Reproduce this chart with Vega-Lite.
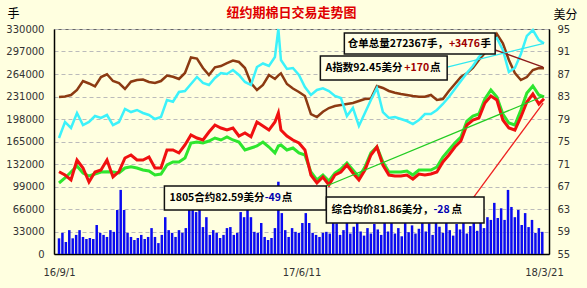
{
"$schema": "https://vega.github.io/schema/vega-lite/v6.json",
"width": 495, "height": 225,
"autosize": {"type": "none"},
"padding": {"left": 54, "top": 29, "right": 38, "bottom": 34},
"background": "#FFFFE0",
"config": {"view": {"stroke": "#666666", "strokeWidth": 1}, "axis": {"labelFont": "DejaVu Sans", "labelFontSize": 10, "labelColor": "#333333"}},
"title": {"text": "纽约期棉日交易走势图", "color": "#E00000", "fontSize": 13, "fontWeight": "bold", "font": "Noto Sans CJK SC", "anchor": "middle", "frame": "group", "dx": -10, "offset": -13},
"datasets": {
"rows": [
{"d":"2016-09-01","wr":230300,"ai":75.62,"c":69.63,"avg":67.62},
{"d":"2016-09-08","wr":231000,"ai":78.47,"c":69.04,"avg":68.51},
{"d":"2016-09-15","wr":233200,"ai":77.40,"c":68.16,"avg":69.58},
{"d":"2016-09-22","wr":240500,"ai":80.07,"c":71.71,"avg":70.64},
{"d":"2016-09-29","wr":253700,"ai":77.93,"c":70.29,"avg":69.40},
{"d":"2016-10-06","wr":250100,"ai":78.47,"c":67.80,"avg":68.87},
{"d":"2016-10-13","wr":245700,"ai":79.53,"c":69.58,"avg":69.22},
{"d":"2016-10-20","wr":259600,"ai":79.18,"c":69.93,"avg":69.58},
{"d":"2016-10-27","wr":263600,"ai":79.71,"c":71.71,"avg":69.63},
{"d":"2016-11-03","wr":253700,"ai":77.93,"c":68.69,"avg":69.58},
{"d":"2016-11-10","wr":250800,"ai":78.47,"c":69.63,"avg":69.40},
{"d":"2016-11-17","wr":242000,"ai":80.78,"c":72.07,"avg":70.29},
{"d":"2016-11-24","wr":252700,"ai":80.24,"c":72.60,"avg":70.52},
{"d":"2016-12-01","wr":255200,"ai":80.60,"c":71.71,"avg":70.29},
{"d":"2016-12-08","wr":255900,"ai":80.07,"c":71.71,"avg":69.93},
{"d":"2016-12-15","wr":252300,"ai":79.71,"c":72.24,"avg":69.76},
{"d":"2016-12-22","wr":250800,"ai":79.00,"c":70.29,"avg":69.04},
{"d":"2016-12-29","wr":253700,"ai":79.36,"c":70.29,"avg":69.22},
{"d":"2017-01-05","wr":261800,"ai":82.38,"c":73.49,"avg":70.82},
{"d":"2017-01-12","wr":260000,"ai":82.08,"c":73.49,"avg":71.36},
{"d":"2017-01-19","wr":256700,"ai":83.80,"c":72.96,"avg":71.36},
{"d":"2017-01-26","wr":265500,"ai":83.98,"c":74.38,"avg":72.07},
{"d":"2017-02-02","wr":288200,"ai":85.22,"c":76.16,"avg":74.73},
{"d":"2017-02-09","wr":286700,"ai":86.47,"c":75.62,"avg":74.91},
{"d":"2017-02-16","wr":272800,"ai":85.40,"c":75.27,"avg":74.73},
{"d":"2017-02-23","wr":262500,"ai":85.04,"c":76.69,"avg":75.09},
{"d":"2017-03-02","wr":273800,"ai":86.29,"c":77.93,"avg":75.62},
{"d":"2017-03-09","wr":275700,"ai":87.18,"c":77.40,"avg":75.27},
{"d":"2017-03-16","wr":280100,"ai":87.00,"c":77.04,"avg":75.80},
{"d":"2017-03-23","wr":283800,"ai":87.71,"c":77.40,"avg":75.27},
{"d":"2017-03-30","wr":281600,"ai":86.82,"c":75.98,"avg":74.91},
{"d":"2017-04-06","wr":272800,"ai":85.58,"c":76.51,"avg":73.49},
{"d":"2017-04-13","wr":250800,"ai":85.04,"c":75.85,"avg":73.84},
{"d":"2017-04-20","wr":240500,"ai":88.24,"c":78.47,"avg":74.20},
{"d":"2017-04-27","wr":247900,"ai":88.87,"c":77.76,"avg":74.91},
{"d":"2017-05-04","wr":262500,"ai":88.42,"c":77.04,"avg":74.02},
{"d":"2017-05-11","wr":256700,"ai":90.02,"c":78.47,"avg":72.95},
{"d":"2017-05-15","wr":262000,"ai":95.00,"c":80.07,"avg":74.20},
{"d":"2017-05-18","wr":265000,"ai":89.49,"c":77.04,"avg":74.38},
{"d":"2017-05-25","wr":249300,"ai":87.89,"c":75.98,"avg":73.49},
{"d":"2017-06-01","wr":242700,"ai":88.07,"c":75.27,"avg":73.84},
{"d":"2017-06-08","wr":237600,"ai":86.82,"c":74.73,"avg":72.96},
{"d":"2017-06-15","wr":231700,"ai":84.69,"c":73.49,"avg":72.60},
{"d":"2017-06-22","wr":205300,"ai":83.27,"c":69.04,"avg":69.58},
{"d":"2017-06-29","wr":200900,"ai":84.16,"c":67.62,"avg":68.16},
{"d":"2017-07-06","wr":208700,"ai":84.46,"c":68.69,"avg":69.04},
{"d":"2017-07-13","wr":214100,"ai":83.98,"c":67.27,"avg":67.98},
{"d":"2017-07-20","wr":217100,"ai":83.09,"c":69.04,"avg":69.40},
{"d":"2017-07-27","wr":218500,"ai":82.73,"c":69.58,"avg":70.11},
{"d":"2017-08-03","wr":220000,"ai":79.53,"c":70.82,"avg":71.18},
{"d":"2017-08-10","wr":221500,"ai":80.96,"c":69.40,"avg":69.93},
{"d":"2017-08-17","wr":224400,"ai":77.76,"c":68.16,"avg":68.69},
{"d":"2017-08-24","wr":227300,"ai":80.07,"c":69.93,"avg":70.47},
{"d":"2017-08-31","wr":228100,"ai":82.38,"c":72.60,"avg":72.96},
{"d":"2017-09-07","wr":246400,"ai":84.51,"c":74.02,"avg":74.02},
{"d":"2017-09-14","wr":243500,"ai":80.24,"c":70.82,"avg":71.36},
{"d":"2017-09-21","wr":239100,"ai":79.18,"c":69.04,"avg":69.58},
{"d":"2017-09-28","wr":236600,"ai":79.36,"c":68.87,"avg":69.58},
{"d":"2017-10-05","wr":234700,"ai":79.00,"c":68.87,"avg":69.58},
{"d":"2017-10-12","wr":233200,"ai":78.64,"c":69.04,"avg":69.76},
{"d":"2017-10-19","wr":231700,"ai":78.11,"c":68.33,"avg":69.04},
{"d":"2017-10-26","wr":230700,"ai":78.82,"c":69.22,"avg":69.93},
{"d":"2017-11-02","wr":230700,"ai":79.89,"c":69.04,"avg":69.93},
{"d":"2017-11-09","wr":233200,"ai":79.89,"c":69.22,"avg":69.93},
{"d":"2017-11-16","wr":225900,"ai":80.60,"c":69.58,"avg":70.47},
{"d":"2017-11-23","wr":227300,"ai":81.67,"c":71.36,"avg":72.24},
{"d":"2017-11-30","wr":239100,"ai":82.91,"c":72.60,"avg":73.49},
{"d":"2017-12-07","wr":249300,"ai":84.33,"c":74.02,"avg":74.73},
{"d":"2017-12-14","wr":259600,"ai":85.76,"c":75.09,"avg":75.80},
{"d":"2017-12-21","wr":265000,"ai":87.18,"c":77.93,"avg":78.64},
{"d":"2017-12-28","wr":272800,"ai":88.42,"c":78.82,"avg":79.53},
{"d":"2018-01-04","wr":284500,"ai":90.02,"c":79.18,"avg":79.89},
{"d":"2018-01-11","wr":294800,"ai":91.09,"c":81.84,"avg":82.56},
{"d":"2018-01-18","wr":306500,"ai":92.69,"c":83.09,"avg":84.16},
{"d":"2018-01-25","wr":322700,"ai":93.40,"c":82.38,"avg":82.91},
{"d":"2018-02-01","wr":309000,"ai":91.27,"c":78.82,"avg":79.89},
{"d":"2018-02-08","wr":284500,"ai":87.36,"c":77.40,"avg":78.29},
{"d":"2018-02-15","wr":265500,"ai":88.07,"c":77.04,"avg":77.93},
{"d":"2018-02-22","wr":255200,"ai":90.56,"c":79.36,"avg":80.60},
{"d":"2018-03-01","wr":259600,"ai":93.76,"c":82.02,"avg":83.62},
{"d":"2018-03-08","wr":269900,"ai":94.82,"c":83.44,"avg":84.87},
{"d":"2018-03-15","wr":272800,"ai":93.04,"c":81.67,"avg":83.27},
{"d":"2018-03-21","wr":272367,"ai":92.45,"c":82.59,"avg":82.91}
],
"vol": [
{"d":"2016-09-01","v":23000},{"d":"2016-09-05","v":31000},{"d":"2016-09-09","v":17600},{"d":"2016-09-13","v":35000},
{"d":"2016-09-17","v":23000},{"d":"2016-09-21","v":28000},{"d":"2016-09-25","v":35000},{"d":"2016-09-29","v":25000},
{"d":"2016-10-03","v":22000},{"d":"2016-10-07","v":23500},{"d":"2016-10-11","v":22000},{"d":"2016-10-15","v":42500},
{"d":"2016-10-19","v":31000},{"d":"2016-10-23","v":28000},{"d":"2016-10-27","v":25000},{"d":"2016-10-31","v":35000},
{"d":"2016-11-04","v":32500},{"d":"2016-11-08","v":64500},{"d":"2016-11-12","v":94000},{"d":"2016-11-16","v":64500},
{"d":"2016-11-20","v":31000},{"d":"2016-11-24","v":25000},{"d":"2016-11-28","v":20500},{"d":"2016-12-02","v":23500},
{"d":"2016-12-06","v":28000},{"d":"2016-12-10","v":22000},{"d":"2016-12-14","v":25000},{"d":"2016-12-18","v":38000},
{"d":"2016-12-22","v":25000},{"d":"2016-12-26","v":16000},{"d":"2016-12-30","v":28000},{"d":"2017-01-03","v":54000},
{"d":"2017-01-07","v":35000},{"d":"2017-01-11","v":31000},{"d":"2017-01-15","v":25000},{"d":"2017-01-19","v":35000},
{"d":"2017-01-23","v":31000},{"d":"2017-01-27","v":38000},{"d":"2017-01-31","v":64500},{"d":"2017-02-04","v":69000},
{"d":"2017-02-08","v":61500},{"d":"2017-02-12","v":67000},{"d":"2017-02-16","v":39500},{"d":"2017-02-20","v":54000},
{"d":"2017-02-24","v":28000},{"d":"2017-02-28","v":35000},{"d":"2017-03-04","v":31000},{"d":"2017-03-08","v":23500},
{"d":"2017-03-12","v":28000},{"d":"2017-03-16","v":38000},{"d":"2017-03-20","v":39500},{"d":"2017-03-24","v":28000},
{"d":"2017-03-28","v":31000},{"d":"2017-04-01","v":61500},{"d":"2017-04-05","v":54000},{"d":"2017-04-09","v":64500},
{"d":"2017-04-13","v":54000},{"d":"2017-04-17","v":32500},{"d":"2017-04-21","v":31000},{"d":"2017-04-25","v":45500},
{"d":"2017-04-29","v":25000},{"d":"2017-05-03","v":20500},{"d":"2017-05-07","v":23500},{"d":"2017-05-11","v":38000},
{"d":"2017-05-15","v":106000},{"d":"2017-05-19","v":60000},{"d":"2017-05-23","v":35000},{"d":"2017-05-27","v":25000},
{"d":"2017-05-31","v":38000},{"d":"2017-06-04","v":32500},{"d":"2017-06-08","v":31000},{"d":"2017-06-12","v":45500},
{"d":"2017-06-16","v":60000},{"d":"2017-06-20","v":45500},{"d":"2017-06-24","v":31000},{"d":"2017-06-28","v":28000},
{"d":"2017-07-02","v":25000},{"d":"2017-07-06","v":31000},{"d":"2017-07-10","v":32500},{"d":"2017-07-14","v":30000},
{"d":"2017-07-18","v":62000},{"d":"2017-07-22","v":45000},{"d":"2017-07-26","v":28000},{"d":"2017-07-30","v":35000},
{"d":"2017-08-03","v":52000},{"d":"2017-08-07","v":30000},{"d":"2017-08-11","v":40000},{"d":"2017-08-15","v":66000},
{"d":"2017-08-19","v":33000},{"d":"2017-08-23","v":27000},{"d":"2017-08-27","v":38000},{"d":"2017-08-31","v":30000},
{"d":"2017-09-04","v":44000},{"d":"2017-09-08","v":36000},{"d":"2017-09-12","v":28000},{"d":"2017-09-16","v":55000},
{"d":"2017-09-20","v":33000},{"d":"2017-09-24","v":46000},{"d":"2017-09-28","v":30000},{"d":"2017-10-02","v":38000},
{"d":"2017-10-06","v":26000},{"d":"2017-10-10","v":50000},{"d":"2017-10-14","v":32000},{"d":"2017-10-18","v":42000},
{"d":"2017-10-22","v":30000},{"d":"2017-10-26","v":37000},{"d":"2017-10-30","v":58000},{"d":"2017-11-03","v":33000},
{"d":"2017-11-07","v":45000},{"d":"2017-11-11","v":28000},{"d":"2017-11-15","v":62000},{"d":"2017-11-19","v":40000},
{"d":"2017-11-23","v":31000},{"d":"2017-11-27","v":48000},{"d":"2017-12-01","v":35000},{"d":"2017-12-05","v":27000},
{"d":"2017-12-09","v":44000},{"d":"2017-12-13","v":36000},{"d":"2017-12-17","v":52000},{"d":"2017-12-21","v":30000},
{"d":"2017-12-25","v":41000},{"d":"2017-12-29","v":47000},{"d":"2018-01-02","v":34000},{"d":"2018-01-06","v":56000},
{"d":"2018-01-10","v":38000},{"d":"2018-01-14","v":54000},{"d":"2018-01-18","v":50000},{"d":"2018-01-22","v":75000},
{"d":"2018-01-26","v":52800},{"d":"2018-01-30","v":67000},{"d":"2018-02-03","v":50000},{"d":"2018-02-07","v":94000},
{"d":"2018-02-11","v":69000},{"d":"2018-02-15","v":54000},{"d":"2018-02-19","v":64500},{"d":"2018-02-23","v":42500},
{"d":"2018-02-27","v":60000},{"d":"2018-03-03","v":39500},{"d":"2018-03-07","v":50000},{"d":"2018-03-11","v":31000},
{"d":"2018-03-15","v":38000},{"d":"2018-03-19","v":32500}
],
"boxes": [
{"box":"wr","d1":"2017-07-31","d2":"2018-01-23","v1":94.29,"v2":90.56},
{"box":"ai","d1":"2017-07-03","d2":"2017-11-28","v1":90.2,"v2":85.93},
{"box":"c1805","d1":"2017-01-02","d2":"2017-07-10","v1":67.09,"v2":62.82},
{"box":"avg","d1":"2017-07-10","d2":"2018-01-10","v1":65.13,"v2":60.51}
],
"labels": [
{"d":"2017-08-04","v":92.42,"t":"仓单总量272367手，","k":"text"},
{"d":"2017-11-30","v":92.42,"t":"+3476","k":"up"},
{"d":"2018-01-06","v":92.42,"t":"手","k":"text"},
{"d":"2017-07-09","v":88.07,"t":"A指数92.45美分","k":"text"},
{"d":"2017-10-09","v":88.07,"t":"+170","k":"up"},
{"d":"2017-11-08","v":88.07,"t":"点","k":"text"},
{"d":"2017-01-08","v":64.96,"t":"1805合约82.59美分","k":"text"},
{"d":"2017-04-29","v":64.96,"t":"-49","k":"down"},
{"d":"2017-05-19","v":64.96,"t":"点","k":"text"},
{"d":"2017-07-16","v":62.82,"t":"综合均价81.86美分，","k":"text"},
{"d":"2017-11-12","v":62.82,"t":"-28","k":"down"},
{"d":"2017-12-03","v":62.82,"t":"点","k":"text"}
],
"links": [
{"link":"b1805","d":"2017-07-10","v":67.09},{"link":"b1805","d":"2018-03-21","v":83.09},
{"link":"bavg","d":"2017-12-29","v":65.13},{"link":"bavg","d":"2018-03-20","v":81.84},
{"link":"bwr","d":"2018-01-23","v":91.27},{"link":"bwr","d":"2018-03-20","v":88.24},
{"link":"bai","d":"2017-11-28","v":88.24},{"link":"bai","d":"2018-03-21","v":92.45}
]
},
"resolve": {"scale": {"y": "independent"}},
"layer": [
{"data": {"name": "vol"},
 "mark": {"type": "bar", "width": 2.5, "color": "#0A0AF0", "clip": true},
 "encoding": {
  "x": {"field": "d", "type": "temporal",
   "scale": {"type": "utc", "domain": [{"year":2016,"month":9,"date":1,"utc":true},{"year":2018,"month":3,"date":21,"utc":true}]},
   "axis": {"orient": "bottom", "title": null, "values": [{"year":2016,"month":9,"date":1,"utc":true},{"year":2017,"month":6,"date":11,"utc":true},{"year":2018,"month":3,"date":21,"utc":true}],
    "format": "%y/%-m/%-d", "ticks": false, "labelPadding": 13, "domainColor": "#000000", "domainWidth": 1.5, "grid": false, "labelFlush": false, "labelOverlap": false}},
  "y": {"field": "v", "type": "quantitative",
   "scale": {"domain": [0, 330000], "nice": false},
   "axis": {"orient": "left", "values": [0,33000,66000,99000,132000,165000,198000,231000,264000,297000,330000], "format": "d",
    "title": "手", "titleAngle": 0, "titleX": -47, "titleY": -16, "titleAlign": "left", "titleBaseline": "middle",
    "titleFont": "Noto Sans CJK SC", "titleFontSize": 12, "titleFontWeight": "normal", "titleColor": "#000000",
    "grid": true, "gridColor": "#BBBBBB", "gridDash": [4, 3], "domainColor": "#000000", "domainWidth": 1.5, "ticks": false, "labelPadding": 10}}
 }},
{"data": {"name": "rows"},
 "mark": {"type": "line", "color": "#8C3A12", "strokeWidth": 2.5},
 "encoding": {
  "x": {"field": "d", "type": "temporal"},
  "y": {"field": "wr", "type": "quantitative", "scale": {"domain": [0, 330000], "nice": false}, "axis": null}
 }},
{"data": {"name": "rows"},
 "mark": {"type": "line", "color": "#3CF2FA", "strokeWidth": 2.5},
 "encoding": {
  "x": {"field": "d", "type": "temporal"},
  "y": {"field": "ai", "type": "quantitative", "scale": {"domain": [55, 95], "nice": false, "zero": false},
   "axis": {"orient": "right", "values": [55,59,63,67,71,75,79,83,87,91,95],
    "title": "美分", "titleAngle": 0, "titleX": 4, "titleY": -15, "titleAlign": "left", "titleBaseline": "middle",
    "titleFont": "Noto Sans CJK SC", "titleFontSize": 12, "titleFontWeight": "normal", "titleColor": "#000000",
    "grid": false, "domainColor": "#000000", "domainWidth": 1.5, "ticks": false, "labelPadding": 8}}
 }},
{"data": {"name": "rows"},
 "mark": {"type": "line", "color": "#2EE62E", "strokeWidth": 3},
 "encoding": {
  "x": {"field": "d", "type": "temporal"},
  "y": {"field": "avg", "type": "quantitative", "scale": {"domain": [55, 95], "nice": false, "zero": false}, "axis": null}
 }},
{"data": {"name": "rows"},
 "mark": {"type": "line", "color": "#F01010", "strokeWidth": 3},
 "encoding": {
  "x": {"field": "d", "type": "temporal"},
  "y": {"field": "c", "type": "quantitative", "scale": {"domain": [55, 95], "nice": false, "zero": false}, "axis": null}
 }},
{"data": {"name": "links"},
 "mark": {"type": "line", "strokeWidth": 1.3},
 "encoding": {
  "x": {"field": "d", "type": "temporal"},
  "y": {"field": "v", "type": "quantitative", "scale": {"domain": [55, 95], "nice": false, "zero": false}, "axis": null},
  "stroke": {"field": "link", "type": "nominal", "scale": {"domain": ["b1805","bavg","bwr","bai"], "range": ["#22CC22","#EE2020","#8B1A1A","#30E8F0"]}, "legend": null}
 }},
{"data": {"name": "links"},
 "transform": [{"filter": "datum.link == 'bwr' && datum.d == '2018-03-20'"}],
 "mark": {"type": "point", "shape": "triangle-right", "angle": 19, "size": 60, "filled": true, "color": "#7A0A0A", "opacity": 1},
 "encoding": {
  "x": {"field": "d", "type": "temporal"},
  "y": {"field": "v", "type": "quantitative", "scale": {"domain": [55, 95], "nice": false, "zero": false}, "axis": null}
 }},
{"data": {"name": "links"},
 "transform": [{"filter": "datum.link == 'bavg' && datum.d == '2018-03-20'"}],
 "mark": {"type": "point", "shape": "triangle-right", "angle": 307, "size": 60, "filled": true, "color": "#EE2020", "opacity": 1},
 "encoding": {
  "x": {"field": "d", "type": "temporal"},
  "y": {"field": "v", "type": "quantitative", "scale": {"domain": [55, 95], "nice": false, "zero": false}, "axis": null}
 }},
{"data": {"name": "boxes"},
 "mark": {"type": "rect", "fill": "#8A8A8A", "xOffset": 2, "yOffset": 2},
 "encoding": {
  "x": {"field": "d1", "type": "temporal"}, "x2": {"field": "d2"},
  "y": {"field": "v1", "type": "quantitative", "scale": {"domain": [55, 95], "nice": false, "zero": false}, "axis": null}, "y2": {"field": "v2"}
 }},
{"data": {"name": "boxes"},
 "mark": {"type": "rect", "fill": "#FFFFE6", "stroke": "#111111", "strokeWidth": 1.5},
 "encoding": {
  "x": {"field": "d1", "type": "temporal"}, "x2": {"field": "d2"},
  "y": {"field": "v1", "type": "quantitative", "scale": {"domain": [55, 95], "nice": false, "zero": false}, "axis": null}, "y2": {"field": "v2"}
 }},
{"data": {"name": "labels"},
 "mark": {"type": "text", "align": "left", "baseline": "middle", "font": "Noto Sans CJK SC", "fontSize": 10.5, "fontWeight": "bold"},
 "encoding": {
  "x": {"field": "d", "type": "temporal"},
  "y": {"field": "v", "type": "quantitative", "scale": {"domain": [55, 95], "nice": false, "zero": false}, "axis": null},
  "text": {"field": "t"},
  "fill": {"field": "k", "type": "nominal", "scale": {"domain": ["text","up","down"], "range": ["#000000","#A00000","#0000B0"]}, "legend": null}
 }}
]
}
